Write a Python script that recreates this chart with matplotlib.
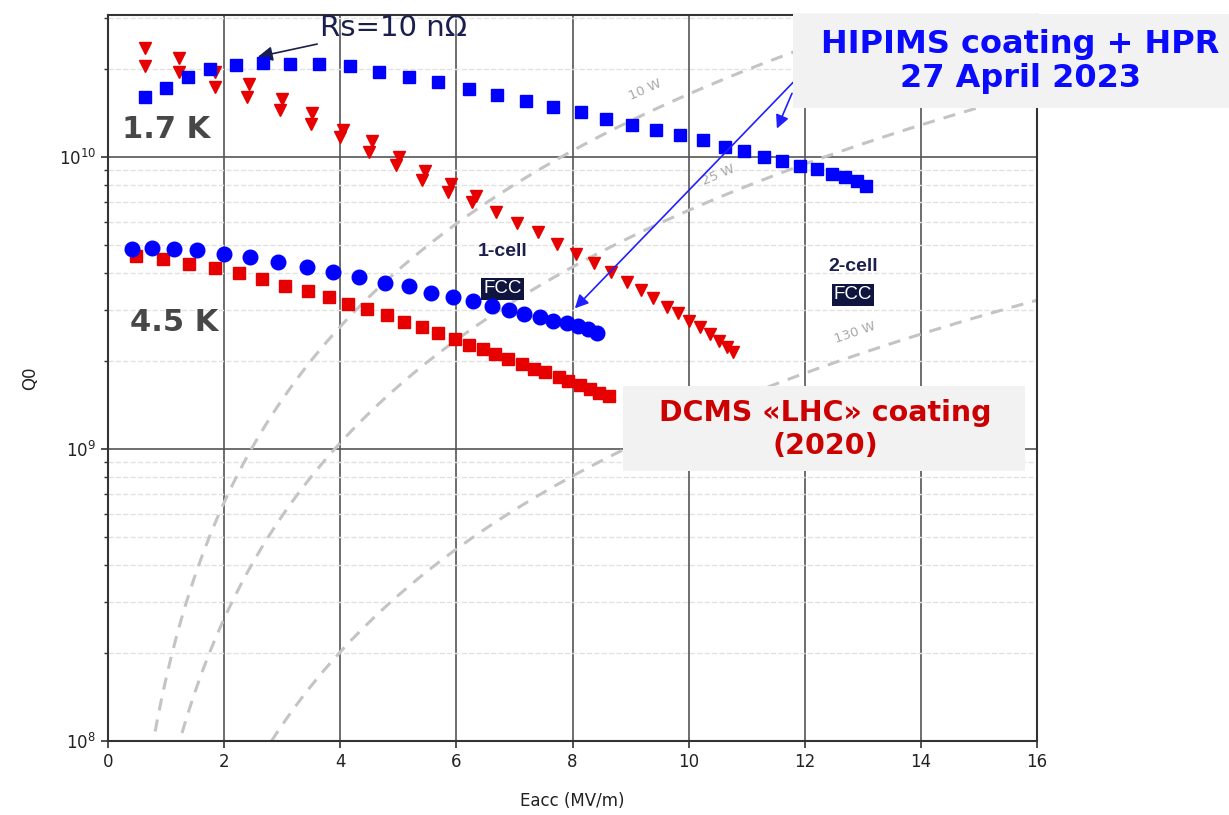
import numpy as np
import matplotlib
matplotlib.use('Agg')
import matplotlib.pyplot as plt
from matplotlib.patches import Rectangle

# ---------------- data ----------------
# HIPIMS coating + HPR, 1.7 K (blue squares)
hip17_E = [0.63, 0.99, 1.37, 1.76, 2.20, 2.67, 3.14, 3.63, 4.17, 4.66, 5.18, 5.69,
           6.21, 6.70, 7.20, 7.67, 8.15, 8.58, 9.02, 9.44, 9.85, 10.24, 10.62, 10.95,
           11.29, 11.61, 11.92, 12.21, 12.47, 12.69, 12.90, 13.06]
hip17_Q = [1.60e10, 1.72e10, 1.88e10, 2.00e10, 2.06e10, 2.10e10, 2.08e10, 2.08e10,
           2.04e10, 1.95e10, 1.87e10, 1.80e10, 1.71e10, 1.63e10, 1.55e10, 1.48e10,
           1.42e10, 1.35e10, 1.29e10, 1.24e10, 1.19e10, 1.14e10, 1.08e10, 1.05e10,
           9.98e9, 9.68e9, 9.31e9, 9.10e9, 8.74e9, 8.52e9, 8.28e9, 7.96e9]

# HIPIMS coating + HPR, 4.5 K (blue circles)
hip45_E = [0.41, 0.76, 1.13, 1.54, 1.99, 2.45, 2.92, 3.42, 3.88, 4.33, 4.77, 5.19,
           5.56, 5.94, 6.29, 6.61, 6.90, 7.17, 7.44, 7.67, 7.90, 8.10, 8.27, 8.43]
hip45_Q = [4.84e9, 4.87e9, 4.84e9, 4.78e9, 4.64e9, 4.53e9, 4.38e9, 4.20e9, 4.05e9,
           3.89e9, 3.71e9, 3.62e9, 3.43e9, 3.30e9, 3.20e9, 3.09e9, 2.99e9, 2.90e9,
           2.82e9, 2.75e9, 2.69e9, 2.64e9, 2.57e9, 2.49e9]

# DCMS "LHC" coating (2020), 1.7 K (red triangles)
dcms17_E = [0.63, 0.63, 1.22, 1.22, 1.84, 1.84, 2.43, 2.39, 3.00, 2.96, 3.51, 3.50,
            4.05, 4.00, 4.55, 4.50, 5.01, 4.96, 5.46, 5.41, 5.91, 5.86, 6.34, 6.27,
            6.68, 7.05, 7.41, 7.74, 8.06, 8.37, 8.66, 8.93, 9.18, 9.39, 9.62, 9.82,
            10.01, 10.20, 10.37, 10.53, 10.66, 10.76]
dcms17_Q = [2.36e10, 2.05e10, 2.18e10, 1.96e10, 1.96e10, 1.74e10, 1.78e10, 1.60e10,
            1.58e10, 1.45e10, 1.41e10, 1.30e10, 1.24e10, 1.17e10, 1.13e10, 1.04e10,
            1.00e10, 9.39e9, 8.91e9, 8.34e9, 8.08e9, 7.61e9, 7.35e9, 7.03e9,
            6.50e9, 5.96e9, 5.51e9, 5.04e9, 4.65e9, 4.33e9, 4.02e9, 3.74e9, 3.50e9,
            3.28e9, 3.07e9, 2.91e9, 2.75e9, 2.62e9, 2.48e9, 2.35e9, 2.24e9, 2.14e9]

# DCMS "LHC" coating (2020), 4.5 K (red squares)
dcms45_E = [0.48, 0.95, 1.40, 1.84, 2.26, 2.66, 3.05, 3.45, 3.80, 4.14, 4.46, 4.80,
            5.10, 5.40, 5.69, 5.97, 6.21, 6.45, 6.67, 6.89, 7.13, 7.33, 7.53, 7.76,
            7.93, 8.13, 8.30, 8.46, 8.63]
dcms45_Q = [4.56e9, 4.47e9, 4.30e9, 4.16e9, 4.00e9, 3.81e9, 3.62e9, 3.48e9, 3.32e9,
            3.14e9, 3.01e9, 2.88e9, 2.73e9, 2.62e9, 2.50e9, 2.38e9, 2.27e9, 2.19e9,
            2.11e9, 2.03e9, 1.95e9, 1.88e9, 1.83e9, 1.76e9, 1.71e9, 1.66e9, 1.60e9,
            1.55e9, 1.52e9]

# constant dissipated-power curves Q0 = k * Eacc^2 / P
power_W = [10, 25, 130]
power_labels = ['10 W', '25 W', '130 W']
power_k = 1.64e9
power_label_E = [9.25, 10.51, 12.87]
power_label_Q = [1.70e10, 8.68e9, 2.49e9]
power_label_rot = [24, 23, 19]

x_ticks = [0, 2, 4, 6, 8, 10, 12, 14, 16]

# ---------------- figure ----------------
fig = plt.figure(figsize=(12.29, 8.15), dpi=100)
ax = fig.add_axes([0.0879, 0.0908, 0.7559, 0.8908])
ax.set_yscale('log')
ax.set_xlim(0, 16)
ax.set_ylim(1e8, 3.06e10)

E = np.linspace(0.05, 16, 400)
for P, lab, le, lq, rot in zip(power_W, power_labels, power_label_E,
                               power_label_Q, power_label_rot):
    ax.plot(E, power_k * E**2 / P, color='#c4c4c4', lw=2.2, dashes=(4, 3), zorder=2)
    ax.text(le, lq, lab, color='#a8a8a8', fontsize=9.5,
            rotation=rot, ha='center', va='center', zorder=2)

ax.plot(hip17_E, hip17_Q, 's', color='#0000ff', ms=9, mec='#0000ff', zorder=4)
ax.plot(hip45_E, hip45_Q, 'o', color='#0000ff', ms=10.5, mec='#0000ff', zorder=4)
ax.plot(dcms17_E, dcms17_Q, 'v', color='#e60000', ms=8.5, mec='#e60000', zorder=3)
ax.plot(dcms45_E, dcms45_Q, 's', color='#e60000', ms=8, mec='#e60000', zorder=3)

# grids
ax.set_xticks(x_ticks)
ax.grid(True, which='major', axis='both', color='#555555', lw=1.2, zorder=1)
ax.grid(True, which='minor', axis='y', color='#e2e2e2', lw=1.0, ls='--', zorder=1)
ax.set_axisbelow(True)
for s in ax.spines.values():
    s.set_color('#333333')
    s.set_linewidth(1.5)
ax.tick_params(axis='both', which='major', labelsize=12, length=5, width=1.2,
               color='#333333', labelcolor='#222222')
ax.tick_params(axis='y', which='minor', length=3, width=1, color='#333333')
ax.set_xlabel('Eacc (MV/m)', fontsize=12, color='#222222', labelpad=15)
ax.set_ylabel('Q0', fontsize=12, color='#222222', labelpad=14)

# annotations
navy = '#1b1f4d'
ax.annotate('Rs=10 nΩ', xy=(2.58, 2.2e10), xytext=(3.65, 2.77e10),
            fontsize=21, color=navy, va='center', ha='left',
            arrowprops=dict(arrowstyle='-|>', color=navy, lw=1.2,
                            mutation_scale=22, shrinkA=0, shrinkB=0))
ax.text(0.24, 1.24e10, '1.7 K', fontsize=22, fontweight='bold', color='#474747',
        ha='left', va='center')
ax.text(0.38, 2.72e9, '4.5 K', fontsize=22, fontweight='bold', color='#474747',
        ha='left', va='center')
ax.text(6.80, 4.73e9, '1-cell', fontsize=14, fontweight='bold', color=navy,
        family='Liberation Sans', ha='center', va='center')
ax.text(6.80, 3.53e9, 'FCC', fontsize=13.5, color='white', family='Liberation Sans',
        ha='center', va='center',
        bbox=dict(boxstyle='square,pad=0.12', fc='#101540', ec='none'))
ax.text(12.83, 4.2e9, '2-cell', fontsize=14, fontweight='bold', color=navy,
        family='Liberation Sans', ha='center', va='center')
ax.text(12.83, 3.37e9, 'FCC', fontsize=13.5, color='white', family='Liberation Sans',
        ha='center', va='center',
        bbox=dict(boxstyle='square,pad=0.12', fc='#101540', ec='none'))

# blue arrows from the HIPIMS label
ax.annotate('', xy=(8.04, 3.03e9), xytext=(11.80, 1.80e10),
            arrowprops=dict(arrowstyle='-|>', color='#2020ff', lw=1.2,
                            mutation_scale=20, shrinkA=0, shrinkB=0), zorder=5)
ax.annotate('', xy=(11.52, 1.25e10), xytext=(11.78, 1.65e10),
            arrowprops=dict(arrowstyle='-|>', color='#2020ff', lw=1.2,
                            mutation_scale=20, shrinkA=0, shrinkB=0), zorder=5)

# label boxes (figure coordinates)
fig.patches.append(Rectangle((0.6452, 0.8675), 0.36, 0.1153, transform=fig.transFigure,
                             fc='#f2f2f2', ec='none', zorder=10))
fig.text(0.830, 0.946, 'HIPIMS coating + HPR', fontsize=23, fontweight='bold',
         color='#0a0aff', ha='center', va='center', zorder=11)
fig.text(0.830, 0.904, '27 April 2023', fontsize=23, fontweight='bold',
         color='#0a0aff', ha='center', va='center', zorder=11)

fig.patches.append(Rectangle((0.5069, 0.4221), 0.3271, 0.1043, transform=fig.transFigure,
                             fc='#f2f2f2', ec='none', zorder=10))
fig.text(0.6713, 0.4933, 'DCMS «LHC» coating', fontsize=20.5, fontweight='bold',
         color='#cc0000', ha='center', va='center', zorder=11)
fig.text(0.6713, 0.4528, '(2020)', fontsize=20.5, fontweight='bold',
         color='#cc0000', ha='center', va='center', zorder=11)

fig.savefig('out.png', dpi=100)
